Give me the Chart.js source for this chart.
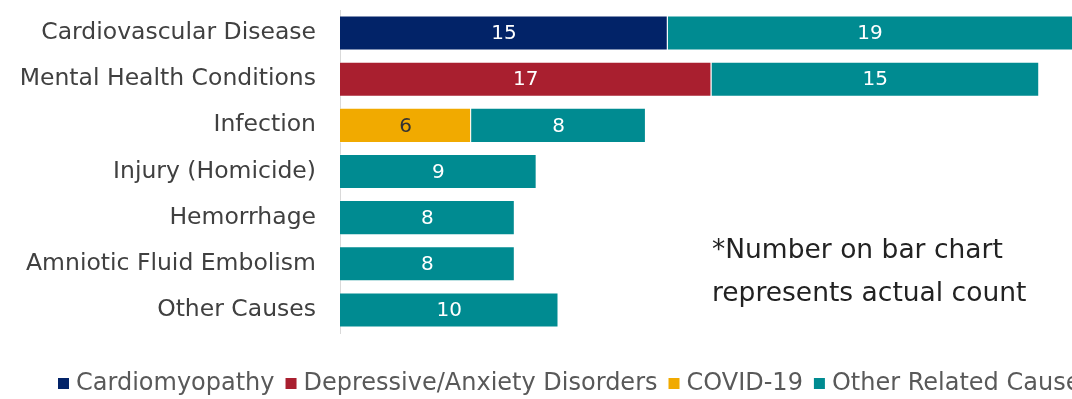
<!DOCTYPE html>
<html>
<head>
<meta charset="utf-8">
<script src="https://cdn.jsdelivr.net/npm/chart.js@4"></script>
<style>
  html, body { margin: 0; padding: 0; background: #fff; overflow: hidden; }
  #wrap { width: 1072px; height: 399px; position: relative; }
</style>
</head>
<body>
<div id="wrap"><canvas id="causesChart"></canvas></div>
<script>
// causes of death, counts per sub-cause
const causes = ['Cardiovascular Disease', 'Mental Health Conditions', 'Infection',
    'Injury (Homicide)', 'Hemorrhage', 'Amniotic Fluid Embolism', 'Other Causes'];

const cardiomyopathy = [15, null, null, null, null, null, null];
const depressiveAnxiety = [null, 17, null, null, null, null, null];
const covid19 = [null, null, 6, null, null, null, null];
const otherRelated = [19, 15, 8, 9, 8, 8, 10];

const seriesNames = ['Cardiomyopathy', 'Depressive/Anxiety Disorders', 'COVID-19', 'Other Related Causes'];
const noteLines = ['*Number on bar chart', 'represents actual count'];

const FONT = '"DejaVu Sans", sans-serif';

// value labels in the middle of each bar segment
const barLabels = {
    id: 'barLabels',
    afterDatasetsDraw(chart) {
        const ctx = chart.ctx;
        ctx.save();
        ctx.font = '20px ' + FONT;
        ctx.textAlign = 'center';
        ctx.textBaseline = 'middle';
        chart.data.datasets.forEach((ds, i) => {
            const meta = chart.getDatasetMeta(i);
            meta.data.forEach((bar, j) => {
                const v = ds.data[j];
                if (v == null) return;
                const right = Math.min(bar.x, chart.chartArea.right);
                const x = (bar.base + right) / 2;
                ctx.fillStyle = ds.labelColor;
                ctx.fillText(String(v), x, bar.y + 1);
            });
        });
        ctx.restore();
    }
};

// legend along the bottom plus the note on the right
const extras = {
    id: 'extras',
    afterDraw(chart) {
        const ctx = chart.ctx;
        ctx.save();

        ctx.font = '26.5px ' + FONT;
        ctx.fillStyle = '#222';
        ctx.textAlign = 'left';
        ctx.textBaseline = 'middle';
        ctx.fillText(noteLines[0], 712, 251);
        ctx.fillText(noteLines[1], 712, 294);

        ctx.font = '24px ' + FONT;
        let x = 58;
        const y = 384;
        chart.data.datasets.forEach((ds) => {
            ctx.fillStyle = ds.backgroundColor;
            ctx.fillRect(x, y - 6, 11, 11);
            x += 18;
            ctx.fillStyle = '#595959';
            ctx.fillText(ds.label, x, y);
            x += ctx.measureText(ds.label).width + 11;
        });
        ctx.restore();
    }
};

new Chart(document.getElementById('causesChart'), {
    type: 'bar',
    data: {
        labels: causes,
        datasets: [
            { label: seriesNames[0], data: cardiomyopathy, backgroundColor: '#022368', labelColor: '#fff' },
            { label: seriesNames[1], data: depressiveAnxiety, backgroundColor: '#a91f2f', labelColor: '#fff' },
            { label: seriesNames[2], data: covid19, backgroundColor: '#f1aa00', labelColor: '#333' },
            { label: seriesNames[3], data: otherRelated, backgroundColor: '#008b91', labelColor: '#fff' }
        ].map(ds => Object.assign(ds, {
            borderColor: 'rgba(255,255,255,0.35)',
            borderWidth: 1,
            categoryPercentage: 1,
            barPercentage: 0.76
        }))
    },
    options: {
        indexAxis: 'y',
        responsive: true,
        maintainAspectRatio: false,
        animation: false,
        layout: { padding: { top: 10, bottom: 66, left: 0, right: 0 } },
        plugins: {
            legend: { display: false },
            tooltip: { enabled: false }
        },
        scales: {
            x: {
                stacked: true,
                display: false,
                min: 0,
                max: 33.5
            },
            y: {
                stacked: true,
                grid: { display: false, drawTicks: false },
                border: { display: true, color: '#d9d9d9', width: 1 },
                ticks: {
                    color: '#404040',
                    font: { family: FONT, size: 23.5 },
                    padding: 24
                },
                afterFit(scale) {
                    scale.width = 340;
                    scale.paddingTop = 0;
                    scale.paddingBottom = 0;
                }
            }
        }
    },
    plugins: [barLabels, extras]
});
</script>
</body>
</html>
